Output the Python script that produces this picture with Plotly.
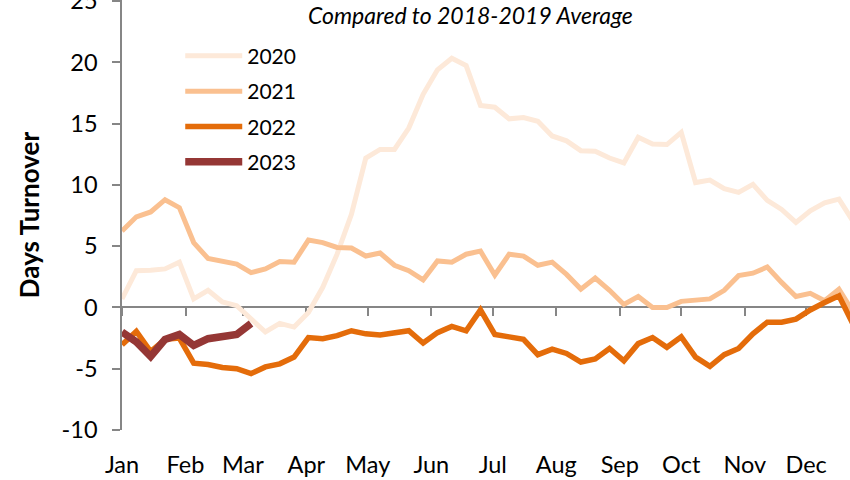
import plotly.graph_objects as go

# ---- data (weekly values, days turnover vs 2018-2019 average) ----
weeks = list(range(52))
y2020 = [0.7, 3.0, 3.05, 3.15, 3.7, 0.7, 1.4, 0.45, 0.15, -0.9,
         -2.0, -1.3, -1.6, -0.4, 1.65, 4.35, 7.6, 12.2, 12.9, 12.9,
         14.65, 17.4, 19.4, 20.35, 19.75, 16.5, 16.35, 15.4, 15.5, 15.2,
         14.0, 13.6, 12.8, 12.75, 12.2, 11.8, 13.9, 13.35, 13.3, 14.3,
         10.2, 10.4, 9.7, 9.4, 10.05, 8.75, 8.0, 6.95, 7.9, 8.55,
         8.85, 7.0]
y2021 = [6.25, 7.4, 7.8, 8.8, 8.15, 5.3, 4.0, 3.8, 3.55, 2.85,
         3.15, 3.75, 3.7, 5.5, 5.3, 4.9, 4.85, 4.2, 4.45, 3.45,
         3.0, 2.25, 3.8, 3.7, 4.35, 4.6, 2.65, 4.35, 4.2, 3.45,
         3.7, 2.7, 1.5, 2.4, 1.4, 0.25, 0.9, 0.0, 0.0, 0.5,
         0.55, 0.7, 1.4, 2.6, 2.8, 3.3, 2.05, 0.9, 1.15, 0.55,
         1.5, -0.4]
y2022 = [-3.05, -1.95, -3.6, -2.6, -2.5, -4.55, -4.65, -4.9, -5.0, -5.4,
         -4.85, -4.6, -4.05, -2.45, -2.55, -2.3, -1.9, -2.15, -2.25, -2.1,
         -1.9, -2.9, -2.05, -1.55, -1.9, -0.2, -2.2, -2.4, -2.6, -3.85,
         -3.4, -3.75, -4.45, -4.2, -3.35, -4.35, -2.95, -2.45, -3.25, -2.4,
         -4.05, -4.8, -3.85, -3.35, -2.15, -1.2, -1.2, -0.95, -0.2, 0.4,
         0.95, -1.4]
y2023 = [-2.0, -2.8, -4.0, -2.6, -2.2, -3.1, -2.55, -2.3, -2.2, -1.3]

month_labels = ["Jan", "Feb", "Mar", "Apr", "May", "Jun",
                "Jul", "Aug", "Sep", "Oct", "Nov", "Dec"]
month_start_day = [0, 31, 59, 90, 120, 151, 181, 212, 243, 273, 304, 334]
month_pos = [d / 7 for d in month_start_day]
y_ticks = [-10, -5, 0, 5, 10, 15, 20, 25]
y_tick_text = ["-10", "-5", "0", "5", "10", "15", "20", "25"]

series = [
    ("2020", y2020, "#FDE9D9", 5),
    ("2021", y2021, "#FAC090", 5),
    ("2022", y2022, "#E46C0A", 5.5),
    ("2023", y2023, "#953735", 7.5),
]

FONT = "Lato"
AX = "#868686"
TICK_SIZE = 23.5

fig = go.Figure()
for name, vals, color, w in series:
    fig.add_trace(go.Scatter(
        x=weeks[:len(vals)], y=vals, mode="lines", name=name,
        legendgroup=name,
        line=dict(color=color, width=w),
        hoverinfo="skip",
    ))

# carrier for the zero-crossing category axis
fig.add_trace(go.Scatter(x=[], y=[], xaxis="x2", yaxis="y",
                         showlegend=False, hoverinfo="skip"))

xr = [0, 50.77]
fig.update_layout(
    width=850, height=480,
    margin=dict(l=122, r=0, t=0, b=50, autoexpand=False),
    paper_bgcolor="white", plot_bgcolor="white",
    font=dict(family=FONT, size=20, color="black"),
    showlegend=True,
    legend=dict(
        x=0.08, y=0.917, xanchor="left", yanchor="top",
        bgcolor="rgba(0,0,0,0)", borderwidth=0,
        font=dict(family=FONT, size=21, color="black"),
        tracegroupgap=5, itemwidth=57,
    ),
    xaxis=dict(
        range=xr, tickvals=month_pos, ticktext=month_labels,
        showline=False, ticks="", showgrid=False, zeroline=False,
        tickfont=dict(family=FONT, size=TICK_SIZE, color="black"),
        ticklabelstandoff=18, automargin=False,
    ),
    xaxis2=dict(
        range=xr, overlaying="x", anchor="free", position=10 / 35,
        tickvals=month_pos, showticklabels=False,
        showline=True, linecolor=AX, linewidth=1.5,
        ticks="outside", ticklen=8, tickcolor=AX, tickwidth=1.5,
        showgrid=False, zeroline=False, layer="below traces",
    ),
    yaxis=dict(
        range=[-10, 25.1], tickvals=y_ticks, ticktext=y_tick_text,
        showline=True, linecolor=AX, linewidth=1.5,
        ticks="outside", ticklen=8, tickcolor=AX, tickwidth=1.5,
        showgrid=False, zeroline=False, layer="below traces",
        tickfont=dict(family=FONT, size=TICK_SIZE, color="black"),
        ticklabelstandoff=10, automargin=False,
        ticklabeloverflow="allow",
        title=dict(text="<b>Days Turnover</b>",
                   font=dict(family=FONT, size=26, color="black"),
                   standoff=14),
    ),
    annotations=[dict(
        text="<i>Compared to 2018-2019 Average</i>",
        xref="paper", yref="paper", x=0.479, y=1,
        xanchor="center", yanchor="top", showarrow=False, yshift=1,
        font=dict(family=FONT, size=23, color="black"),
    )],
)

fig.write_html("out.html",
               config={"displayModeBar": False},
               post_script="document.body.style.margin='0px';")
